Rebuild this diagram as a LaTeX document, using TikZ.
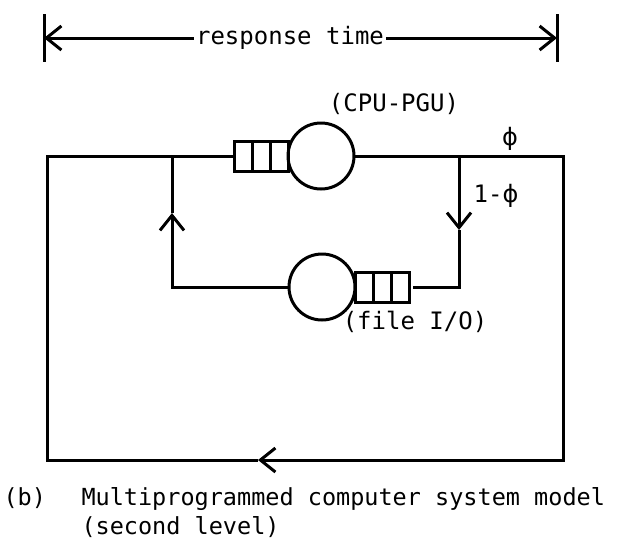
\documentclass[tikz,border=0pt]{standalone}
\usepackage{fontspec}
\setmainfont{DejaVu Sans Mono}
\newfontfamily\phifont{DejaVu Sans}
\newcommand{\phisym}{{\phifont ϕ}}
\usetikzlibrary{arrows.meta,positioning}

\begin{document}
\begin{tikzpicture}[x=1pt, y=-1pt, line width=3pt,
    >={Straight Barb[length=15pt,width=24pt]},
    font=\fontsize{24}{28}\selectfont, inner sep=1pt,
    server/.style={draw, circle, minimum size=66pt, inner sep=0pt, outer sep=0pt},
    queue/.style={draw, rectangle, minimum width=54pt, minimum height=30pt, inner sep=0pt, outer sep=0pt},
    caption/.style={anchor=base west, inner sep=0pt, font=\fontsize{23.5}{28}\selectfont}]
	\useasboundingbox (0,0) rectangle (618,541);
	% response time
	\node (resp) at (290,38) {response time};
	\coordinate (lbar) at (44,38);
	\coordinate (rbar) at (557,38);
	\draw ([yshift=24pt]lbar) -- ([yshift=-24pt]lbar);
	\draw ([yshift=24pt]rbar) -- ([yshift=-24pt]rbar);
	\draw[->] (resp) -- (lbar);
	\draw[->] (resp) -- (rbar);
	% servers with their queues
	\node[server] (cpu) at (321,156) {};
	\node[queue, left=0pt of cpu] (cpuq) {};
	\node[server] (file) at (322,287) {};
	\node[queue, right=0pt of file] (fileq) {};
	\foreach \q in {cpuq,fileq} {
		\draw ([xshift=18pt]\q.north west) -- ([xshift=18pt]\q.south west);
		\draw ([xshift=36pt]\q.north west) -- ([xshift=36pt]\q.south west);
	}
	\node (cpulabel) at (394,104) {(CPU-PGU)};
	\node (filelabel) at (415,322) {(file I/O)};
	% outer loop
	\coordinate (tl) at (47,156);
	\coordinate (tr) at (563,156);
	\coordinate (br) at (563,460);
	\coordinate (bl) at (47,460);
	\coordinate (ret) at (258,460);
	\draw[->] (cpu.east) -- (tr) -- (br) -- (ret);
	\draw (ret) -- (bl) -- (tl) -- (cpuq.west);
	% inner loop
	\coordinate (split) at (459,156);
	\coordinate (down) at (459,230);
	\coordinate (ioin) at (459,287);
	\coordinate (ioout) at (172,287);
	\coordinate (up) at (172,213);
	\coordinate (join) at (172,156);
	\draw[->] (split) -- (down);
	\draw (down) -- (ioin) -- ([xshift=4pt]fileq.east);
	\draw[->] (file.west) -- (ioout) -- (up);
	\draw (up) -- (join);
	\node (phi) at (510,139) {\phisym};
	\node (phibar) at (496,196) {1-\phisym};
	% caption
	\node[caption] (tag) at (2,505) {(b)};
	\node[caption] (caption1) at (80,505) {Multiprogrammed computer system model};
	\node[caption] (caption2) at (80,534) {(second level)};
\end{tikzpicture}
\end{document}
